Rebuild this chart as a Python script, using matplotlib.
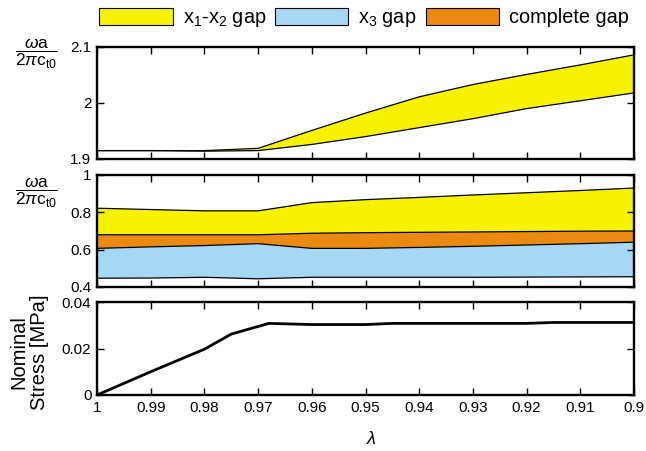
import matplotlib
matplotlib.use("Agg")
import matplotlib.pyplot as plt
from matplotlib.patches import Patch
from matplotlib.ticker import FuncFormatter

plt.rcParams['font.family'] = ['Liberation Sans', 'DejaVu Sans']
plt.rcParams['mathtext.fontset'] = 'custom'
plt.rcParams['mathtext.rm'] = 'Liberation Sans'
plt.rcParams['mathtext.it'] = 'Liberation Sans:italic'
plt.rcParams['mathtext.bf'] = 'Liberation Sans:bold'

# ---- data ----
lam = [1.00, 0.99, 0.98, 0.97, 0.96, 0.95, 0.94, 0.93, 0.92, 0.91, 0.90]

# top panel: x1-x2 gap (high frequency)
top_upper = [1.915, 1.915, 1.915, 1.919, 1.951, 1.982, 2.011, 2.033, 2.051, 2.068, 2.086]
top_lower = [1.915, 1.915, 1.914, 1.915, 1.926, 1.940, 1.956, 1.972, 1.990, 2.004, 2.018]

# middle panel
yel_top  = [0.822, 0.815, 0.808, 0.808, 0.852, 0.868, 0.880, 0.893, 0.905, 0.917, 0.930]
yel_bot  = [0.680, 0.680, 0.680, 0.680, 0.688, 0.691, 0.693, 0.695, 0.697, 0.699, 0.700]
blue_top = [0.607, 0.615, 0.622, 0.632, 0.607, 0.607, 0.612, 0.618, 0.625, 0.632, 0.640]
blue_bot = [0.447, 0.448, 0.452, 0.444, 0.452, 0.452, 0.452, 0.452, 0.453, 0.454, 0.455]

# bottom panel: nominal stress
lam_s  = [1.00, 0.99, 0.98, 0.975, 0.968, 0.96, 0.95, 0.945, 0.92, 0.915, 0.90]
stress = [0.0, 0.0100, 0.0197, 0.0262, 0.0308, 0.0303, 0.0303, 0.0308, 0.0308, 0.0312, 0.0312]

xticks = [1.0, 0.99, 0.98, 0.97, 0.96, 0.95, 0.94, 0.93, 0.92, 0.91, 0.90]
xticklabels = ['1', '0.99', '0.98', '0.97', '0.96', '0.95', '0.94', '0.93', '0.92', '0.91', '0.9']

C_YEL = '#f7f300'
C_BLUE = '#a6d8f5'
C_ORG = '#ea8a12'

W, H = 646, 451
fig = plt.figure(figsize=(W / 100, H / 100), dpi=100)

def box(l, t, r, b):
    return [l / W, 1 - b / H, (r - l) / W, (b - t) / H]

ax1 = fig.add_axes(box(97, 47, 634, 159))
ax2 = fig.add_axes(box(97, 175, 634, 287))
ax3 = fig.add_axes(box(97, 302, 634, 395))

ax1.fill_between(lam, top_lower, top_upper, facecolor=C_YEL, edgecolor='none')
ax1.plot(lam, top_upper, color='black', lw=0.9)
ax1.plot(lam, top_lower, color='black', lw=0.9)

ax2.fill_between(lam, blue_bot, blue_top, facecolor=C_BLUE, edgecolor='none')
ax2.fill_between(lam, blue_top, yel_bot, facecolor=C_ORG, edgecolor='none')
ax2.fill_between(lam, yel_bot, yel_top, facecolor=C_YEL, edgecolor='none')
for s in (blue_bot, blue_top, yel_bot, yel_top):
    ax2.plot(lam, s, color='black', lw=0.9)

ax3.plot(lam_s, stress, color='black', lw=2.0)

fmt = FuncFormatter(lambda v, p: ('%g' % round(v, 4)))
for ax in (ax1, ax2, ax3):
    ax.set_xlim(1.0, 0.9)
    ax.set_xticks(xticks)
    ax.tick_params(direction='in', top=True, right=True, length=5, width=1.0,
                   labelsize=11, pad=4)
    for sp in ax.spines.values():
        sp.set_linewidth(1.7)
    ax.yaxis.set_major_formatter(fmt)

ax1.set_ylim(1.9, 2.1)
ax1.set_yticks([1.9, 2.0, 2.1])
ax1.set_xticklabels([])
ax2.set_ylim(0.4, 1.0)
ax2.set_yticks([0.4, 0.6, 0.8, 1.0])
ax2.set_xticklabels([])
ax3.set_ylim(0, 0.04)
ax3.set_yticks([0, 0.02, 0.04])
ax3.set_xticklabels(xticklabels)

frac = r'$\dfrac{\omega\mathrm{a}}{2\pi\mathrm{c}_{\mathrm{t0}}}$'
fig.text(36 / W, 1 - 54 / H, frac, ha='center', va='center', fontsize=12.5)
fig.text(36 / W, 1 - 193 / H, frac, ha='center', va='center', fontsize=12.5)
fig.text(29 / W, 1 - 352 / H, 'Nominal\nStress [MPa]', rotation=90,
         ha='center', va='center', fontsize=14.5, linespacing=1.1)
fig.text(371 / W, 1 - 440 / H, r'$\lambda$', ha='center', va='center', fontsize=13)

handles = [Patch(facecolor=C_YEL, edgecolor='black', lw=0.8),
           Patch(facecolor=C_BLUE, edgecolor='black', lw=0.8),
           Patch(facecolor=C_ORG, edgecolor='black', lw=0.8)]
labels = [r'x$_\mathrm{1}$-x$_\mathrm{2}$ gap', r'x$_\mathrm{3}$ gap', 'complete gap']
fig.legend(handles, labels, loc='center', bbox_to_anchor=(364 / W, 1 - 18.5 / H),
           ncol=3, frameon=False, fontsize=14.3, handlelength=3.7,
           handleheight=0.95, handletextpad=0.5, columnspacing=0.45,
           borderaxespad=0, borderpad=0)

fig.savefig('out.png', dpi=100)
